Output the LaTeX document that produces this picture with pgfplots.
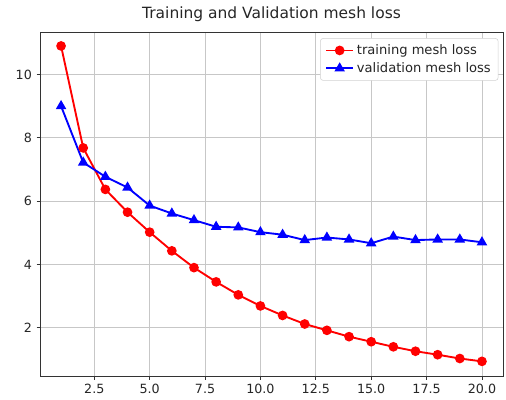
\documentclass[border=0pt]{standalone}
\usepackage{pgfplots}
\pgfplotsset{compat=1.18}
\usepackage{fontspec}
\setmainfont{DejaVu Sans}
\begin{document}
\begin{tikzpicture}
\useasboundingbox (-30pt,-17.25pt) rectangle (349.25pt,282pt);
\begin{axis}[
  at={(0,0)}, anchor=south west,
  scale only axis, width=347pt, height=258pt,
  xmin=0.05, xmax=20.95, ymin=0.47, ymax=11.34,
  xtick={2.5,5,7.5,10,12.5,15,17.5,20},
  ytick={2,4,6,8,10},
  /pgf/number format/.cd, fixed, precision=1, assume math mode=true,
  /pgfplots/.cd,
  xticklabel style={/pgf/number format/fixed zerofill, /pgf/number format/precision=1},
  yticklabel style={/pgf/number format/precision=0},
  tick label style={font=\fontsize{9.5}{11}\selectfont, text=black!85},
  grid=major,
  major grid style={color=black!22, line width=0.6pt},
  axis line style={color=black!80, line width=0.6pt},
  tick style={color=black!80, line width=0.6pt},
  tick align=outside, major tick length=2.6pt,
  xtick pos=bottom, ytick pos=left,
  title={Training and Validation mesh loss},
  title style={font=\fontsize{11.6}{13}\selectfont, yshift=-2pt, text=black!85},
  legend style={font=\fontsize{9.8}{12}\selectfont, draw=black!18, rounded corners=2pt,
    at={(0.99,0.982)}, anchor=north east, inner xsep=3.5pt, inner ysep=2.5pt, row sep=0.5pt, text=black!85},
  legend cell align=left,
  legend image code/.code={
    \draw[#1, mark repeat=2, mark phase=2] plot coordinates {(0cm,0cm) (0.36cm,0cm) (0.72cm,0cm)};
  },
]
\addplot[color=red, line width=1.4pt, mark=*, mark size=2.9pt, mark options={solid, fill=red}]
coordinates {
(1,10.90) (2,7.68) (3,6.37) (4,5.65) (5,5.02) (6,4.43) (7,3.90) (8,3.45) (9,3.04) (10,2.69)
(11,2.39) (12,2.12) (13,1.92) (14,1.72) (15,1.56) (16,1.40) (17,1.26) (18,1.15) (19,1.03) (20,0.94)
};
\addlegendentry{training mesh loss}
\addplot[color=blue, line width=1.4pt, mark=triangle*, mark size=3.2pt, mark options={solid, fill=blue}]
coordinates {
(1,9.00) (2,7.22) (3,6.77) (4,6.43) (5,5.86) (6,5.61) (7,5.40) (8,5.19) (9,5.17) (10,5.02)
(11,4.94) (12,4.77) (13,4.85) (14,4.79) (15,4.67) (16,4.88) (17,4.77) (18,4.79) (19,4.79) (20,4.70)
};
\addlegendentry{validation mesh loss}
\end{axis}
\end{tikzpicture}
\end{document}
